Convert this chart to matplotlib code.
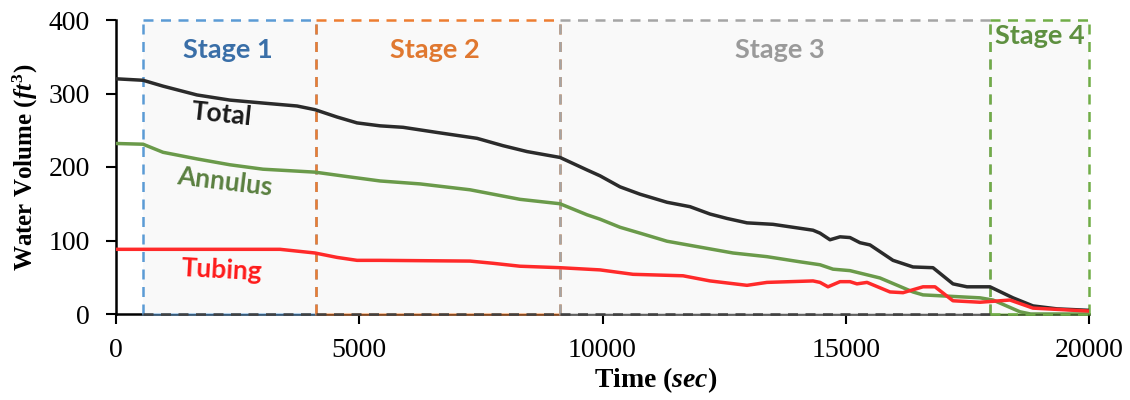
import matplotlib
matplotlib.use("Agg")
import matplotlib.pyplot as plt
from matplotlib.patches import Rectangle

# ---- data ----
t_total = [0, 555, 966, 1665, 2343, 3022, 3720, 4090, 4543, 4954, 5427, 5899, 6598, 7420,
           7955, 8448, 9126, 9681, 9949, 10360, 10771, 11326, 11799, 12210, 12559, 12970,
           13504, 14327, 14471, 14676, 14882, 15087, 15293, 15498, 15971, 16382, 16793,
           17204, 17492, 17965, 18438, 18849, 19342, 20000]
v_total = [320, 318, 310, 298, 291, 287, 283, 278, 268, 260, 256, 254, 247, 239,
           229, 221, 213, 196, 188, 173, 163, 152, 146, 136, 130, 124,
           122, 114, 110, 101, 105, 104, 97, 94, 73, 64, 63,
           41, 37, 37, 22, 11, 7, 5]

t_annulus = [0, 555, 966, 1665, 2343, 3022, 4090, 4748, 5427, 6249, 7276, 8304, 9126,
             9681, 9949, 10360, 10771, 11326, 12004, 12682, 13381, 14059, 14471, 14738,
             15087, 15704, 16382, 16588, 17760, 18027, 18582, 18800, 20000]
v_annulus = [232, 231, 220, 211, 203, 197, 193, 187, 181, 177, 169, 156, 150,
             135, 129, 118, 110, 99, 91, 83, 78, 71, 67, 61,
             59, 49, 30, 26, 22, 19, 3, 0, 0]

t_tubing = [0, 555, 966, 3371, 4090, 4543, 4954, 5427, 7276, 7749, 8304, 9126, 9949,
            10627, 11655, 12210, 12970, 13381, 14327, 14471, 14635, 14882, 15087, 15230,
            15437, 15910, 16177, 16588, 16835, 17204, 17760, 18376, 18849, 20000]
v_tubing = [88, 88, 88, 88, 83, 77, 73, 73, 72, 69, 65, 63, 60,
            54, 52, 45, 39, 43, 45, 43, 37, 44, 44, 41,
            43, 30, 29, 37, 37, 18, 16, 19, 8, 4]

stage_names = ["Stage 1", "Stage 2", "Stage 3", "Stage 4"]
stage_bounds = [(555, 4100), (4100, 9126), (9126, 17965), (17965, 20000)]
stage_edge = ["#5B9BD5", "#ED7D31", "#A5A5A5", "#70AD47"]
stage_text = ["#3A6FA8", "#E07830", "#9A9A9A", "#5E9040"]
stage_label_pos = [(2302, 359), (6557, 359), (13649, 359), (18993, 378)]

x_ticks = [0, 5000, 10000, 15000, 20000]
y_ticks = [0, 100, 200, 300, 400]

# ---- style ----
plt.rcParams["font.family"] = ["Liberation Serif", "DejaVu Serif"]
plt.rcParams["mathtext.fontset"] = "custom"
plt.rcParams["mathtext.rm"] = "Liberation Serif:bold"
plt.rcParams["mathtext.it"] = "Liberation Serif:italic:bold"
plt.rcParams["mathtext.bf"] = "Liberation Serif:bold"

fig = plt.figure(figsize=(11.3, 4.0), dpi=100)
ax = fig.add_axes([0.1027, 0.215, 0.861, 0.735])

# stage boxes
for (x0, x1), ec in zip(stage_bounds, stage_edge):
    ax.add_patch(Rectangle((x0, 0), x1 - x0, 400, facecolor="#F9F9F9",
                           edgecolor="none", zorder=2.5, clip_on=False))
for i, ((x0, x1), ec) in enumerate(zip(stage_bounds, stage_edge)):
    kw = dict(color=ec, lw=1.8, ls=(0, (4, 3)), zorder=3, clip_on=False)
    ax.plot([x0, x1], [400, 400], **kw)
    ax.plot([x0, x0], [0, 400], **kw)
    ax.plot([x1, x1], [0, 400], **kw)
    bottom_color = ec if i == 3 else "#404040"
    ax.plot([x0, x1], [0, 0], color=ec, lw=1.8, zorder=3, clip_on=False, alpha=0.6)
    ax.plot([x0, x1], [0, 0], color=bottom_color, lw=1.8, ls=(0, (4, 3)), zorder=3.1,
            clip_on=False)

# curves
ax.plot(t_annulus, v_annulus, color="#6A9A4A", lw=2.5, zorder=4, solid_joinstyle="round")
ax.plot(t_tubing, v_tubing, color="#FF2A2A", lw=2.5, zorder=4.2, solid_joinstyle="round")
ax.plot(t_total, v_total, color="#2B2B2B", lw=2.5, zorder=4.1, solid_joinstyle="round")

# curve labels
lab_font = dict(family=["Lato", "DejaVu Sans"], fontweight="bold", fontsize=19,
                ha="center", va="center", zorder=5)
ax.text(2179, 272, "Total", color="#1A1A1A", rotation=-6, **lab_font)
ax.text(2240, 180, "Annulus", color="#5A8040", rotation=-7, **lab_font)
ax.text(2179, 60, "Tubing", color="#FF1A1A", rotation=-3, **lab_font)

# stage labels
for name, col, (sx, sy) in zip(stage_names, stage_text, stage_label_pos):
    ax.text(sx, sy, name, color=col, fontsize=19.5, fontweight="bold",
            family=["Lato", "DejaVu Sans"], ha="center", va="center", zorder=5)

# axes
ax.set_xlim(0, 20000)
ax.set_ylim(0, 400)
ax.set_xticks(x_ticks)
ax.set_yticks(y_ticks)
for s in ["top", "right"]:
    ax.spines[s].set_visible(False)
for s in ["left", "bottom"]:
    ax.spines[s].set_linewidth(1.8)
    ax.spines[s].set_zorder(2)
ax.tick_params(direction="out", length=7, width=1.5, labelsize=20)
ax.tick_params(axis="x", pad=10)
ax.tick_params(axis="y", pad=12)
ax.set_facecolor("white")

ax.set_xlabel(r"Time ($sec$)", fontsize=20, fontweight="bold", labelpad=2)
ax.xaxis.label.set_x(0.555)
ax.set_ylabel(r"Water Volume ($ft^3$)", fontsize=18, fontweight="bold", labelpad=6)

fig.savefig("out.png", dpi=100)
